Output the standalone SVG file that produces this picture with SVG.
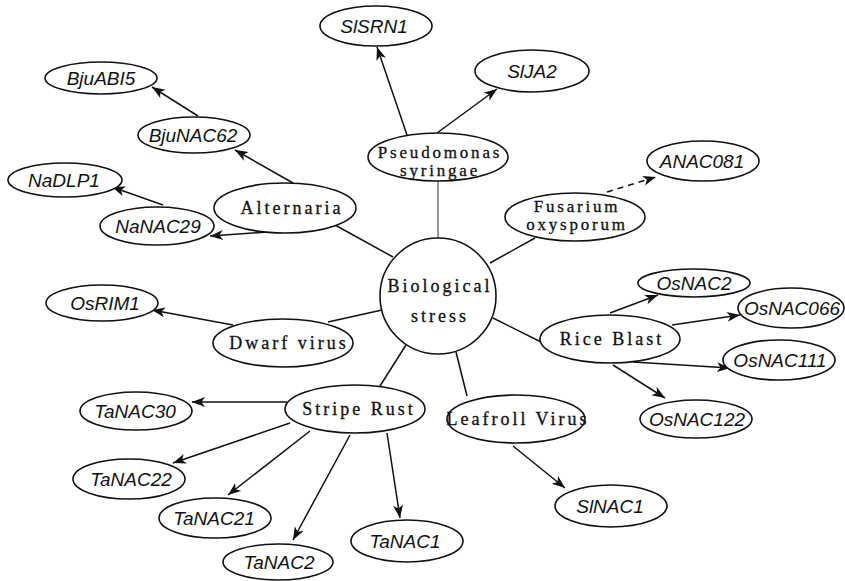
<svg xmlns="http://www.w3.org/2000/svg" width="845" height="581" viewBox="0 0 845 581">
<style>
.n{fill:#fff;stroke:#111;stroke-width:1.6}
.g{font-family:"Liberation Sans",Arial,sans-serif;font-style:italic;font-size:19px;fill:#111;text-anchor:middle}
.t{font-family:"Liberation Serif","Times New Roman",serif;font-size:18px;letter-spacing:3px;fill:#111;stroke:#111;stroke-width:0.3;text-anchor:middle}
.t2{font-size:17px;letter-spacing:2.8px}
.l{stroke:#111;stroke-width:1.5;fill:none}
.a{stroke:#111;stroke-width:1.5;fill:none;marker-end:url(#ah)}
</style>
<defs>
<marker id="ah" markerUnits="userSpaceOnUse" markerWidth="14" markerHeight="11" refX="13" refY="5" orient="auto">
<path d="M0,0 L13,5 L0,10 L3.5,5 z" fill="#111"/>
</marker>
</defs>
<rect width="845" height="581" fill="#fff"/>
<g id="connectors">
<line class="l" x1="438" y1="181" x2="438" y2="238" style="stroke:#777"/>
<line class="l" x1="335" y1="225" x2="393" y2="257"/>
<line class="l" x1="535" y1="238" x2="490" y2="263"/>
<line class="l" x1="328" y1="322" x2="382" y2="310"/>
<line class="l" x1="380" y1="386" x2="406" y2="345"/>
<line class="l" x1="467" y1="396" x2="456" y2="352"/>
<line class="l" x1="541" y1="342" x2="493" y2="318"/>
<line class="a" x1="407" y1="135" x2="377" y2="47"/>
<line class="a" x1="437" y1="133" x2="497" y2="89"/>
<line class="a" x1="293" y1="183" x2="235" y2="150"/>
<line class="a" x1="268" y1="232" x2="210" y2="236"/>
<line class="a" x1="198" y1="116" x2="152" y2="87"/>
<line class="a" x1="163" y1="205" x2="112" y2="187"/>
<line class="a" x1="607" y1="192" x2="656" y2="177" style="stroke-dasharray:6,5"/>
<line class="a" x1="610" y1="313" x2="658" y2="295"/>
<line class="a" x1="672" y1="325" x2="740" y2="315"/>
<line class="a" x1="633" y1="362" x2="730" y2="368"/>
<line class="a" x1="613" y1="365" x2="665" y2="398"/>
<line class="a" x1="513" y1="446" x2="565" y2="488"/>
<line class="a" x1="233" y1="325" x2="152" y2="310"/>
<line class="a" x1="287" y1="402" x2="192" y2="402"/>
<line class="a" x1="290" y1="423" x2="173" y2="463"/>
<line class="a" x1="310" y1="431" x2="228" y2="495"/>
<line class="a" x1="350" y1="435" x2="293" y2="540"/>
<line class="a" x1="387" y1="433" x2="400" y2="518"/>
</g>
<g id="biological-stress"><circle class="n" cx="438" cy="296" r="58"/><text class="t" x="440" y="292">Biological</text><text class="t" x="440" y="322">stress</text></g>
<g id="pseudomonas"><ellipse class="n" cx="438" cy="157" rx="70" ry="24"/><text class="t t2" x="440" y="158">Pseudomonas</text><text class="t t2" x="440" y="176">syringae</text></g>
<g id="alternaria"><ellipse class="n" cx="285" cy="208" rx="71" ry="25"/><text class="t" x="292" y="214">Alternaria</text></g>
<g id="fusarium"><ellipse class="n" cx="575" cy="217" rx="70" ry="24"/><text class="t t2" x="577" y="212">Fusarium</text><text class="t t2" x="577" y="230">oxysporum</text></g>
<g id="rice-blast"><ellipse class="n" cx="610" cy="339" rx="70" ry="24"/><text class="t" x="612" y="345">Rice Blast</text></g>
<g id="leafroll"><ellipse class="n" cx="516" cy="419" rx="69" ry="24"/><text class="t" x="518" y="425">Leafroll Virus</text></g>
<g id="dwarf"><ellipse class="n" cx="283" cy="343" rx="70" ry="24"/><text class="t" x="289" y="349">Dwarf virus</text></g>
<g id="stripe-rust"><ellipse class="n" cx="355" cy="409" rx="70" ry="24"/><text class="t" x="359" y="415">Stripe Rust</text></g>
<g id="SlSRN1"><ellipse class="n" cx="376" cy="26" rx="56" ry="20"/><text class="g" x="374" y="33">SlSRN1</text></g>
<g id="SlJA2"><ellipse class="n" cx="532" cy="71" rx="57" ry="21"/><text class="g" x="532" y="78">SlJA2</text></g>
<g id="BjuABI5"><ellipse class="n" cx="101" cy="78" rx="56" ry="16"/><text class="g" x="101" y="85">BjuABI5</text></g>
<g id="BjuNAC62"><ellipse class="n" cx="194" cy="135" rx="56" ry="18"/><text class="g" x="193" y="142">BjuNAC62</text></g>
<g id="NaDLP1"><ellipse class="n" cx="65" cy="180" rx="57" ry="17"/><text class="g" x="64" y="187">NaDLP1</text></g>
<g id="NaNAC29"><ellipse class="n" cx="157" cy="226" rx="57" ry="19"/><text class="g" x="158" y="233">NaNAC29</text></g>
<g id="ANAC081"><ellipse class="n" cx="703" cy="161" rx="56" ry="20"/><text class="g" x="702" y="168">ANAC081</text></g>
<g id="OsNAC2"><ellipse class="n" cx="694" cy="283" rx="56" ry="14"/><text class="g" x="694" y="290">OsNAC2</text></g>
<g id="OsNAC066"><ellipse class="n" cx="791" cy="308" rx="53" ry="20"/><text class="g" x="792" y="315">OsNAC066</text></g>
<g id="OsNAC111"><ellipse class="n" cx="779" cy="360" rx="56" ry="20"/><text class="g" x="780" y="367">OsNAC111</text></g>
<g id="OsNAC122"><ellipse class="n" cx="696" cy="419" rx="56" ry="19"/><text class="g" x="697" y="426">OsNAC122</text></g>
<g id="SlNAC1"><ellipse class="n" cx="611" cy="506" rx="56" ry="21"/><text class="g" x="610" y="513">SlNAC1</text></g>
<g id="OsRIM1"><ellipse class="n" cx="102" cy="303" rx="56" ry="18"/><text class="g" x="105" y="310">OsRIM1</text></g>
<g id="TaNAC30"><ellipse class="n" cx="136" cy="411" rx="56" ry="19"/><text class="g" x="135" y="418">TaNAC30</text></g>
<g id="TaNAC22"><ellipse class="n" cx="129" cy="479" rx="56" ry="20"/><text class="g" x="131" y="486">TaNAC22</text></g>
<g id="TaNAC21"><ellipse class="n" cx="215" cy="518" rx="56" ry="20"/><text class="g" x="214" y="525">TaNAC21</text></g>
<g id="TaNAC2"><ellipse class="n" cx="278" cy="562" rx="55" ry="18"/><text class="g" x="279" y="569">TaNAC2</text></g>
<g id="TaNAC1"><ellipse class="n" cx="407" cy="541" rx="56" ry="21"/><text class="g" x="405" y="548">TaNAC1</text></g>
</svg>
